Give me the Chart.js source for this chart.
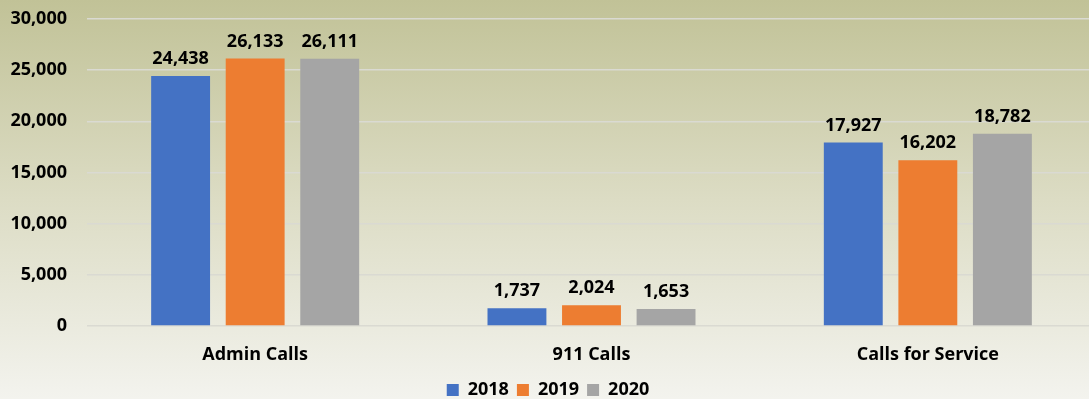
<!DOCTYPE html>
<html>
<head>
<meta charset="utf-8">
<script src="https://cdn.jsdelivr.net/npm/chart.js@4/dist/chart.umd.min.js"></script>
<style>
  html, body { margin: 0; padding: 0; background: #f2f2ec; overflow: hidden; }
  #wrap { width: 1089px; height: 399px; position: relative; overflow: hidden; }
  canvas { display: block; }
</style>
</head>
<body>
<div id="wrap"><canvas id="c" width="1096" height="399"></canvas></div>
<script>
const categories = ['Admin Calls', '911 Calls', 'Calls for Service'];
const years = ['2018', '2019', '2020'];
const calls2018 = [24438, 1737, 17927];
const calls2019 = [26133, 2024, 16202];
const calls2020 = [26111, 1653, 18782];
const colors = ['#4472c4', '#ed7d31', '#a5a5a5'];
const yTicks = [0, 5000, 10000, 15000, 20000, 25000, 30000];

const FONT = '"Open Sans", Lato, sans-serif';

// Soft olive-to-cream backdrop behind the whole chart
const backdrop = {
  id: 'backdrop',
  beforeDraw(chart) {
    const { ctx, width, height } = chart;
    const g = ctx.createLinearGradient(0, 0, 0, height);
    g.addColorStop(0, '#c1c297');
    g.addColorStop(0.5, '#dcdcc4');
    g.addColorStop(1, '#f3f3ee');
    ctx.save();
    ctx.fillStyle = g;
    ctx.fillRect(0, 0, width, height);
    ctx.restore();
  }
};

// Value labels above each bar
const valueLabels = {
  id: 'valueLabels',
  afterDatasetsDraw(chart) {
    const { ctx } = chart;
    ctx.save();
    ctx.font = 'bold 18px ' + FONT;
    ctx.fillStyle = '#000';
    ctx.textAlign = 'center';
    ctx.textBaseline = 'alphabetic';
    chart.data.datasets.forEach((ds, i) => {
      chart.getDatasetMeta(i).data.forEach((bar, j) => {
        ctx.fillText(ds.data[j].toLocaleString('en-US'), bar.x, bar.y - 12);
      });
    });
    ctx.restore();
  }
};

const datasets = [calls2018, calls2019, calls2020].map((d, i) => ({
  label: years[i],
  data: d,
  backgroundColor: colors[i],
  borderWidth: 0,
  categoryPercentage: 0.665,
  barPercentage: 0.79
}));

new Chart(document.getElementById('c'), {
  type: 'bar',
  data: { labels: categories, datasets },
  plugins: [backdrop, valueLabels],
  options: {
    responsive: false,
    animation: false,
    layout: { padding: { left: 0, right: 0, top: 19, bottom: -10 } },
    plugins: {
      legend: {
        position: 'bottom',
        labels: {
          boxWidth: 12, boxHeight: 12, padding: 8,
          color: '#000',
          font: { family: FONT, size: 18, weight: 'bold' }
        }
      },
      tooltip: { enabled: false }
    },
    scales: {
      x: {
        grid: { display: false },
        border: { display: false },
        ticks: { color: '#000', padding: 10, font: { family: FONT, size: 18, weight: 'bold' } },
        afterFit: axis => { axis.height = 47; }
      },
      y: {
        min: 0, max: 30000,
        afterBuildTicks: axis => { axis.ticks = yTicks.map(v => ({ value: v })); },
        afterFit: axis => { axis.width = 87; axis.paddingTop = 0; axis.paddingBottom = 0; },
        ticks: {
          color: '#000',
          padding: 20,
          font: { family: FONT, size: 18, weight: 'bold' },
          callback: v => v.toLocaleString('en-US')
        },
        grid: { color: '#dadad2', lineWidth: 1.5, drawTicks: false },
        border: { display: false }
      }
    }
  }
});
</script>
</body>
</html>
